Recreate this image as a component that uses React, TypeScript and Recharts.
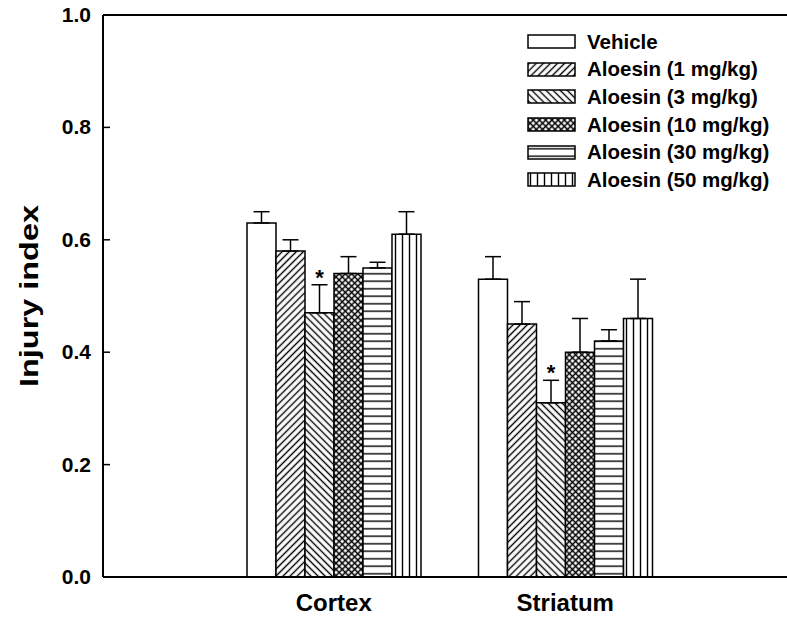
import { BarChart, Bar, XAxis, YAxis, ErrorBar, LabelList, Legend, ReferenceLine, Label } from 'recharts';

const regions = ['Cortex', 'Striatum'];
const seriesNames = [
  'Vehicle',
  'Aloesin (1 mg/kg)',
  'Aloesin (3 mg/kg)',
  'Aloesin (10 mg/kg)',
  'Aloesin (30 mg/kg)',
  'Aloesin (50 mg/kg)',
];

// mean injury index per region
const vehicle = [0.63, 0.53];
const aloesin1 = [0.58, 0.45];
const aloesin3 = [0.47, 0.31];
const aloesin10 = [0.54, 0.40];
const aloesin30 = [0.55, 0.42];
const aloesin50 = [0.61, 0.46];

// upper error (SEM)
const vehicleErr = [0.02, 0.04];
const aloesin1Err = [0.02, 0.04];
const aloesin3Err = [0.05, 0.04];
const aloesin10Err = [0.03, 0.06];
const aloesin30Err = [0.01, 0.02];
const aloesin50Err = [0.04, 0.07];

const aloesin3Sig = ['*', '*'];
const yTicks = [0, 0.2, 0.4, 0.6, 0.8, 1.0];

const values = [vehicle, aloesin1, aloesin3, aloesin10, aloesin30, aloesin50];
const errors = [vehicleErr, aloesin1Err, aloesin3Err, aloesin10Err, aloesin30Err, aloesin50Err];
const patterns = ['fillPlain', 'fillUp', 'fillDown', 'fillCross', 'fillHoriz', 'fillVert'];

const data = regions.map((region, i) => {
  const row: Record<string, any> = { region, sig: aloesin3Sig[i] };
  values.forEach((arr, s) => {
    row[`s${s}`] = arr[i];
    row[`e${s}`] = [0, errors[s][i]];
  });
  return row;
});

const FONT = '"Liberation Sans", Arial, Helvetica, sans-serif';
const TICK_GAP = 12;

function Patterns() {
  return (
    <defs>
      <pattern id="fillPlain" patternUnits="userSpaceOnUse" width="6" height="6">
        <rect width="6" height="6" fill="#fff" />
      </pattern>
      <pattern id="fillUp" patternUnits="userSpaceOnUse" width="5" height="5" patternTransform="rotate(45)">
        <rect width="5" height="5" fill="#fff" />
        <line x1="2.5" y1="0" x2="2.5" y2="5" stroke="#000" strokeWidth="1.4" />
      </pattern>
      <pattern id="fillDown" patternUnits="userSpaceOnUse" width="5" height="5" patternTransform="rotate(-45)">
        <rect width="5" height="5" fill="#fff" />
        <line x1="2.5" y1="0" x2="2.5" y2="5" stroke="#000" strokeWidth="1.4" />
      </pattern>
      <pattern id="fillCross" patternUnits="userSpaceOnUse" width="4.4" height="4.4" patternTransform="rotate(45)">
        <rect width="4.4" height="4.4" fill="#fff" />
        <line x1="2.2" y1="0" x2="2.2" y2="4.4" stroke="#000" strokeWidth="1.5" />
        <line x1="0" y1="2.2" x2="4.4" y2="2.2" stroke="#000" strokeWidth="1.5" />
      </pattern>
      <pattern id="fillHoriz" patternUnits="userSpaceOnUse" width="10" height="7.5">
        <rect width="10" height="7.5" fill="#fff" />
        <line x1="0" y1="3.75" x2="10" y2="3.75" stroke="#000" strokeWidth="1.4" />
      </pattern>
      <pattern id="fillVert" patternUnits="userSpaceOnUse" width="7" height="10">
        <rect width="7" height="10" fill="#fff" />
        <line x1="3.5" y1="0" x2="3.5" y2="10" stroke="#000" strokeWidth="1.4" />
      </pattern>
    </defs>
  );
}

function YTick(props: any) {
  const { x, y, payload } = props;
  const v = Number(payload.value);
  return (
    <g>
      <text x={x} y={y} dy={7} textAnchor="end" fontSize={21} fontWeight={700} fontFamily={FONT} fill="#000">
        {v.toFixed(1)}
      </text>
      {v > 0 && v < 1 && (
        <line x1={x + TICK_GAP} x2={x + TICK_GAP + 7} y1={y} y2={y} stroke="#000" strokeWidth={1.5} />
      )}
    </g>
  );
}

function StarLabel(props: any) {
  const { x, y, width, height, index, value } = props;
  const v = aloesin3[index];
  const e = aloesin3Err[index];
  const top = Number(y) - (e * Number(height)) / v;
  return (
    <text x={Number(x) + Number(width) / 2} y={top} textAnchor="middle" fontSize={22} fontWeight={700} fontFamily={FONT} fill="#000">
      {value}
    </text>
  );
}

function LegendBox() {
  return (
    <div style={{ fontFamily: FONT, fontWeight: 700, fontSize: 20.5 }}>
      {seriesNames.map((name, i) => (
        <div key={name} style={{ display: 'flex', alignItems: 'center', height: 27.6 }}>
          <svg width={49} height={15} style={{ display: 'block' }}>
            <rect x={1} y={1} width={47} height={13} fill={`url(#${patterns[i]})`} stroke="#000" strokeWidth={1.5} />
          </svg>
          <span style={{ marginLeft: 11, whiteSpace: 'nowrap' }}>{name}</span>
        </div>
      ))}
    </div>
  );
}

export default function App() {
  return (
    <div style={{ position: 'absolute', left: 0, top: 0, background: '#fff' }}>
      <BarChart
        width={787}
        height={620}
        data={data}
        margin={{ top: 15, right: 0, bottom: 0, left: 0 }}
        barGap={0}
        barSize={29}
      >
        <Patterns />
        <XAxis
          dataKey="region"
          height={43}
          padding={{ left: 115, right: 106 }}
          axisLine={{ stroke: '#000', strokeWidth: 2 }}
          tickLine={false}
          tickSize={0}
          tickMargin={17}
          tick={{ fill: '#000', fontSize: 24, fontWeight: 700, fontFamily: FONT }}
        />
        <YAxis
          width={103}
          domain={[0, 1]}
          ticks={yTicks}
          axisLine={{ stroke: '#000', strokeWidth: 2 }}
          tickLine={false}
          tickSize={0}
          tickMargin={TICK_GAP}
          tick={<YTick />}
          interval={0}
        >
          <Label
            content={(p: any) => {
              const vb = p.viewBox || {};
              const cy = Number(vb.y) + Number(vb.height) / 2;
              return (
                <text
                  transform={`translate(31, ${cy}) rotate(-90)`}
                  textAnchor="middle"
                  dominantBaseline="middle"
                  fontSize={25}
                  fontWeight={700}
                  fontFamily={FONT}
                  fill="#000"
                  textLength={182}
                  lengthAdjust="spacingAndGlyphs"
                >
                  Injury index
                </text>
              );
            }}
          />
        </YAxis>
        <ReferenceLine y={1} stroke="#000" strokeWidth={2} />
        {seriesNames.map((name, s) => (
          <Bar
            key={name}
            dataKey={`s${s}`}
            name={name}
            fill={`url(#${patterns[s]})`}
            stroke="#000"
            strokeWidth={1.5}
            isAnimationActive={false}
          >
            <ErrorBar dataKey={`e${s}`} direction="y" width={8} stroke="#000" strokeWidth={1.5} />
            {s === 2 && <LabelList dataKey="sig" content={<StarLabel />} />}
          </Bar>
        ))}
        <Legend
          layout="horizontal"
          verticalAlign="middle"
          align="center"
          wrapperStyle={{ left: 527, top: 28, width: 260 }}
          content={() => <LegendBox />}
        />
      </BarChart>
    </div>
  );
}
